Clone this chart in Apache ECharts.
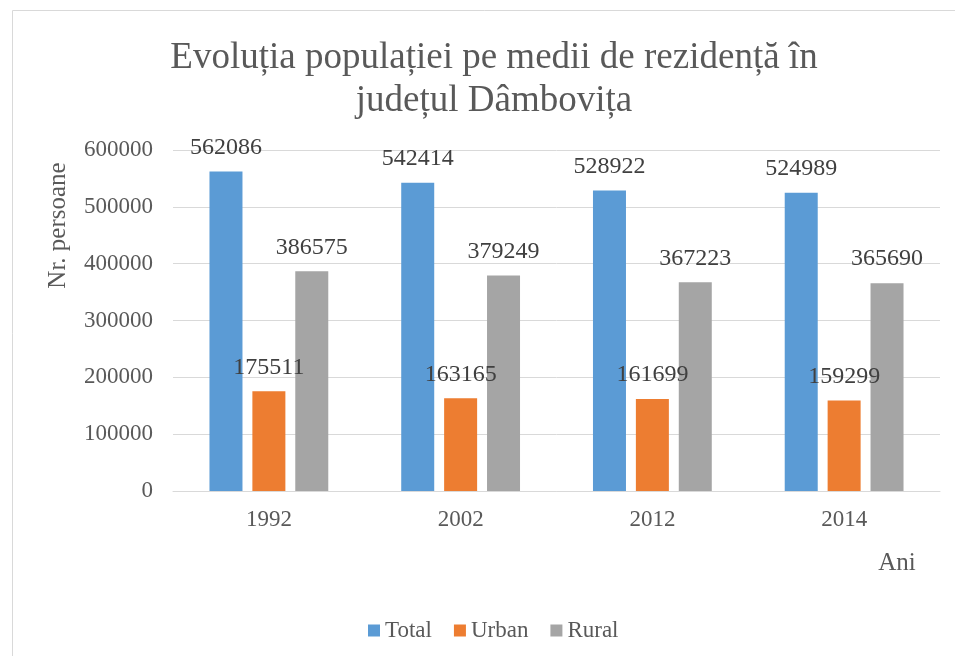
<!DOCTYPE html>
<html>
<head>
<meta charset="utf-8">
<script src="https://cdn.jsdelivr.net/npm/echarts@6/dist/echarts.min.js"></script>
<style>
  html, body { margin: 0; padding: 0; background: #fff; }
  #chart { width: 955px; height: 656px; }
</style>
</head>
<body>
<div id="chart"></div>
<script>
var ani = ['1992', '2002', '2012', '2014'];
var total = [562086, 542414, 528922, 524989];
var urban = [175511, 163165, 161699, 159299];
var rural = [386575, 379249, 367223, 365690];

var font = 'Liberation Serif, Times New Roman, serif';

var dom = document.getElementById('chart');
var myChart = echarts.init(dom, null, { renderer: 'canvas' });

function serie(nume, valori, culoare) {
  return {
    name: nume,
    type: 'bar',
    data: valori,
    barWidth: 33,
    barGap: '30%',
    itemStyle: { color: culoare },
    label: {
      show: true,
      position: 'top',
      distance: 12,
      fontFamily: font,
      fontSize: 24,
      color: '#404040'
    }
  };
}

var option = {
  animation: false,
  title: {
    text: 'Evoluția populației pe medii de rezidență în\njudețul Dâmbovița',
    left: 489,
    textAlign: 'center',
    top: 32,
    textStyle: {
      fontFamily: font,
      fontSize: 37,
      fontWeight: 'normal',
      color: '#595959',
      lineHeight: 43
    }
  },
  // chenarul graficului
  graphic: [{
    type: 'rect',
    shape: { x: 12.5, y: 10.5, width: 960, height: 660 },
    style: { fill: 'none', stroke: '#d9d9d9', lineWidth: 1 }
  }],
  legend: {
    data: ['Total', 'Urban', 'Rural'],
    left: 363,
    top: 614,
    icon: 'rect',
    itemWidth: 12,
    itemHeight: 12,
    itemGap: 22,
    textStyle: { fontFamily: font, fontSize: 23, color: '#595959' }
  },
  grid: { left: 173, right: 15, top: 150, bottom: 165 },
  xAxis: {
    type: 'category',
    data: ani,
    name: 'Ani',
    nameLocation: 'end',
    nameGap: -43,
    nameTextStyle: {
      fontFamily: font, fontSize: 25, color: '#595959',
      align: 'center', verticalAlign: 'top', padding: [60, 0, 0, 0]
    },
    axisLine: { lineStyle: { color: '#d9d9d9' } },
    axisTick: { show: false },
    axisLabel: { fontFamily: font, fontSize: 23, color: '#595959', margin: 17 }
  },
  yAxis: {
    type: 'value',
    min: 0,
    max: 600000,
    interval: 100000,
    name: 'Nr. persoane',
    nameLocation: 'middle',
    nameRotate: 90,
    nameGap: 102,
    nameTextStyle: {
      fontFamily: font, fontSize: 25, color: '#595959',
      padding: [0, 0, 0, 190]
    },
    axisLine: { show: false },
    axisTick: { show: false },
    splitLine: { lineStyle: { color: '#d9d9d9' } },
    axisLabel: {
      fontFamily: font, fontSize: 23, color: '#595959', margin: 20,
      formatter: function (v) { return String(v); }
    }
  },
  series: [
    serie('Total', total, '#5b9bd5'),
    serie('Urban', urban, '#ed7d31'),
    serie('Rural', rural, '#a5a5a5')
  ]
};

myChart.setOption(option);
window.addEventListener('resize', myChart.resize);
</script>
</body>
</html>
